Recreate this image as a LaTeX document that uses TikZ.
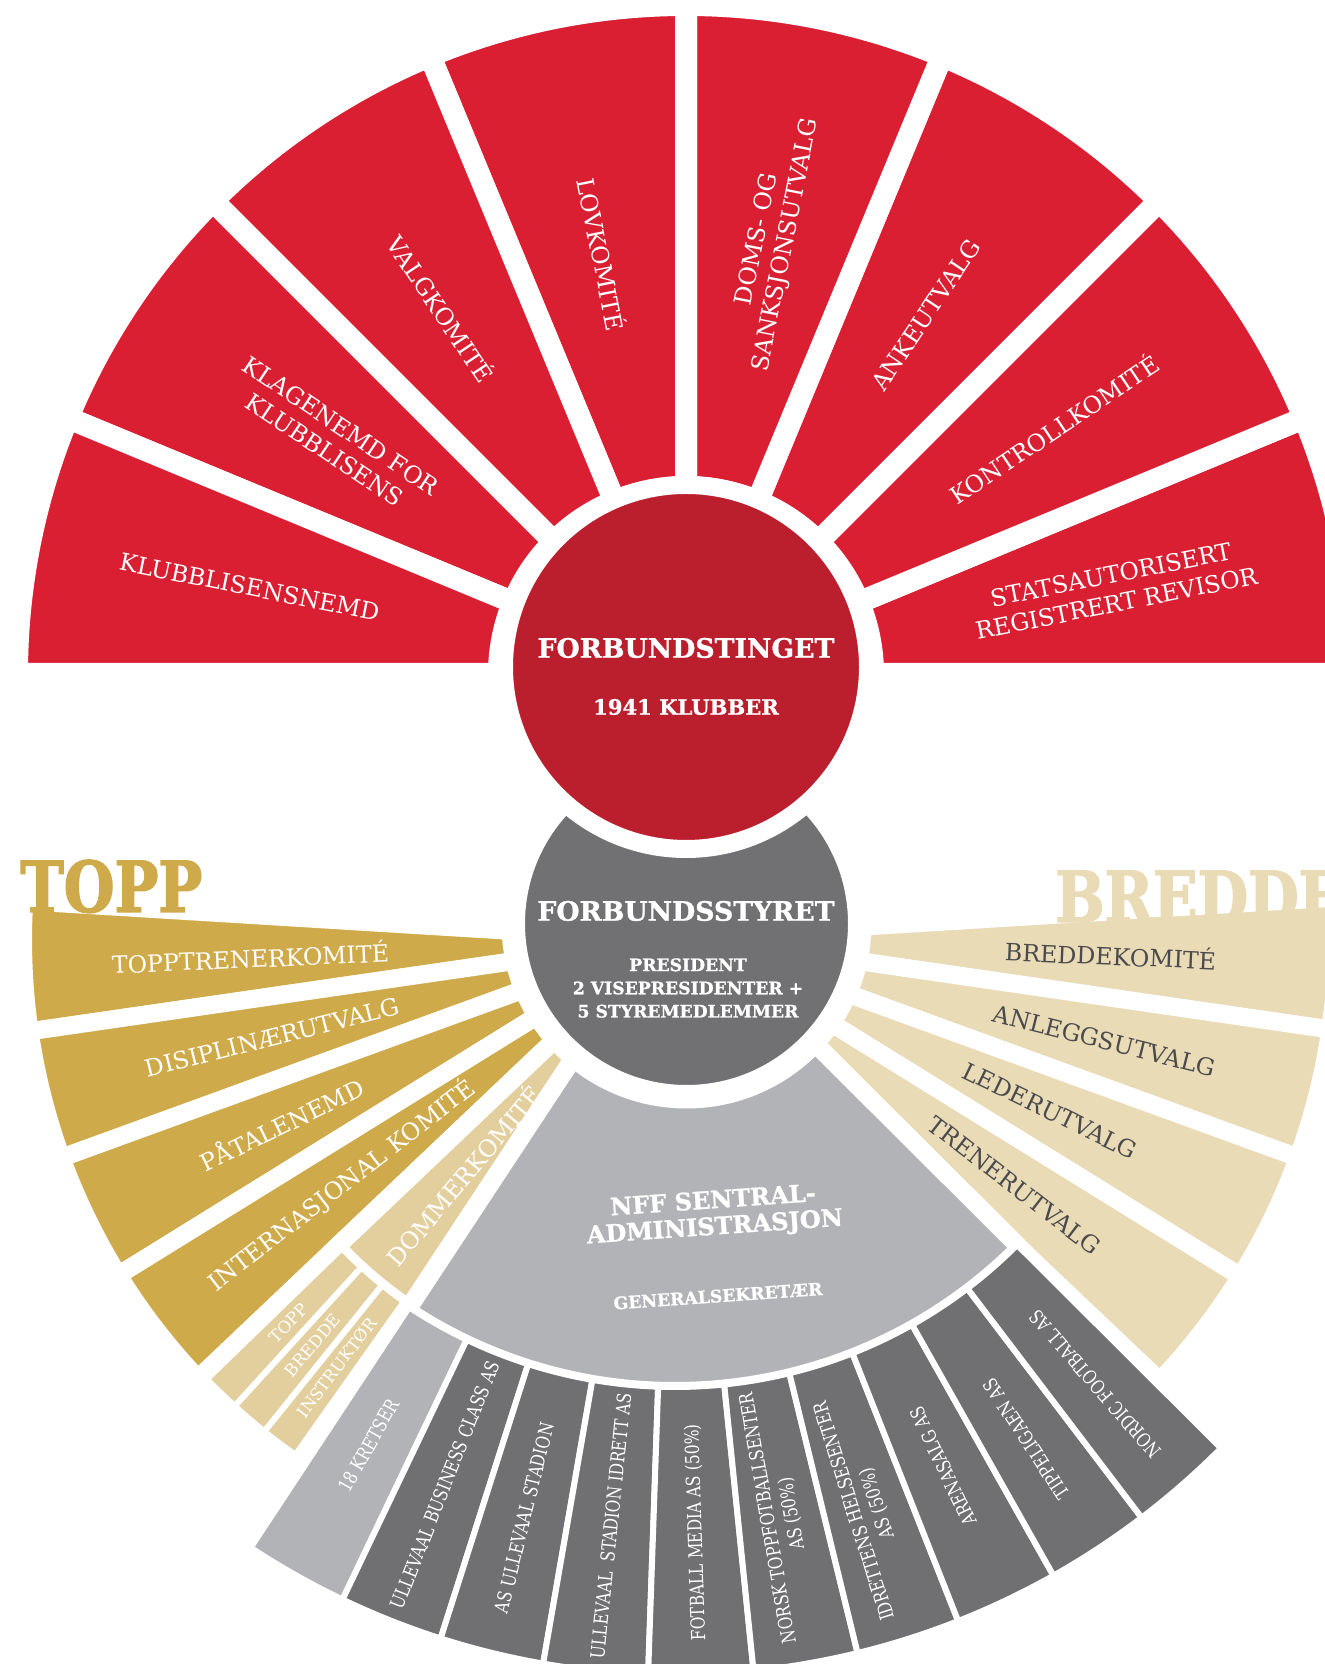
\documentclass[tikz,border=0pt]{standalone}
\usepackage{fontspec}
\setmainfont{DejaVu Serif}
\newfontfamily\compfam{DejaVu Serif}[FakeStretch=0.8]
\newfontfamily\headfam{DejaVu Serif Bold}[FakeStretch=0.83, FakeBold=2]
\newfontfamily\ttlfam{DejaVu Serif Bold}[FakeBold=1]
\usetikzlibrary{calc}

\definecolor{nffred}{HTML}{DA1F33}
\definecolor{nffdark}{HTML}{BB1F2E}
\definecolor{styregray}{HTML}{717174}
\definecolor{admingray}{HTML}{B2B3B6}
\definecolor{cogray}{HTML}{707073}
\definecolor{toppgold}{HTML}{CFAA4A}
\definecolor{breddebeige}{HTML}{EADBB7}
\definecolor{dommertan}{HTML}{E3CF9E}
\definecolor{breddetext}{HTML}{4B4B4D}

% one ring sector: [style]{centre}{from angle}{to angle}{inner r}{outer r}
\newcommand{\ringsec}[6][]{%
  \path[#1] (#2) ++(#3:#5) arc[start angle=#3, end angle=#4, radius=#5]
    -- ++(#4:{#6-#5}) arc[start angle=#4, end angle=#3, radius=#6] -- cycle;}

\tikzset{
  wgap/.style={draw=white, line width=#1},
  redsec/.style={fill=nffred, wgap=12.52pt},
  toppsec/.style={fill=toppgold, wgap=10.24pt},
  breddesec/.style={fill=breddebeige, wgap=10.24pt},
  dommersec/.style={fill=dommertan, wgap=10.24pt},
  kurssec/.style={fill=dommertan, wgap=3.41pt},
  adminsec/.style={fill=admingray, wgap=10.24pt},
  kretssec/.style={fill=admingray, wgap=3.41pt},
  cosec/.style={fill=cogray, wgap=3.41pt},
  lab/.style={font=\fontsize{13.5}{16.5}\selectfont, align=center, inner sep=0},
  wlab/.style={lab, text=white},
  dlab/.style={lab, text=breddetext},
  colab/.style={font=\compfam\fontsize{11}{13.5}\selectfont, align=center, text=white, inner sep=0},
  kurslab/.style={font=\fontsize{9.5}{11}\selectfont, text=white, inner sep=0},
  ttl/.style={font=\ttlfam\fontsize{15.2}{18}\selectfont, text=white, inner sep=0},
  subttl/.style={font=\ttlfam\fontsize{9.8}{13.2}\selectfont, text=white, align=center, inner sep=0},
  bighead/.style={font=\headfam\fontsize{40}{40}\selectfont, inner sep=0, anchor=base west}
}

\begin{document}
\begin{tikzpicture}[x=0.02cm, y=0.02cm]
  \useasboundingbox (0,0) rectangle (1325,1664);
  \clip (0,0) rectangle (1325,1664);

  % centres of the fans
  \coordinate (cF) at (686,997);     % forbundstinget
  \coordinate (cR) at (686,990);     % red fan
  \coordinate (cS) at (686.5,740.5); % forbundsstyret
  \coordinate (cT) at (660,724);     % topp fan
  \coordinate (cB) at (692,727);     % bredde fan
  \coordinate (cA) at (675,760);     % administrasjon and companies

  % red committees
  \foreach \i [evaluate=\i as \a using \i*22.5, evaluate=\i as \b using \i*22.5+22.5] in {0,...,7}
    \ringsec[redsec]{cR}{\a}{\b}{187}{669};

  % topp and bredde
  \foreach \a/\b in {176.5/188.25, 188.25/200, 200/211.75, 211.75/223.5}
    \ringsec[toppsec]{cT}{\a}{\b}{100}{637};
  \foreach \a/\b in {3.5/-8.25, -8.25/-20, -20/-31.75, -31.75/-43.5}
    \ringsec[breddesec]{cB}{\a}{\b}{100}{645};

  % dommer and courses
  \ringsec[dommersec]{cT}{223.5}{236.5}{100}{446};
  \foreach \a/\b in {224.1/227.63, 227.63/231.17, 231.17/234.7}
    \ringsec[kurssec]{cT}{\a}{\b}{443}{631};

  % administration and companies
  \ringsec[adminsec]{cA}{236.6}{315.1}{100}{487};
  \ringsec[kretssec]{cA}{236.6}{244.45}{483}{771};
  \foreach \i [evaluate=\i as \a using 236.6+7.85*\i, evaluate=\i as \b using 244.45+7.85*\i] in {1,...,9}
    \ringsec[cosec]{cA}{\a}{\b}{483}{771};

  % the two circles
  \path[fill=styregray, wgap=13.37pt] (cS) circle[radius=173.25];
  \path[fill=nffdark, wgap=10.24pt] (cF) circle[radius=182];

  % headings
  \node[bighead, text=toppgold] (topphead) at (20,752) {TOPP};
  \node[bighead, text=breddebeige] (breddehead) at (1055,742) {BREDDE};

  % circle texts
  \node[ttl] (tinget) at (686,1016) {FORBUNDSTINGET};
  \node[ttl, font=\ttlfam\fontsize{12}{14}\selectfont] (klubber) at (686,957) {1941 KLUBBER};
  \node[ttl] (styret) at (686,753) {FORBUNDSSTYRET};
  \node[subttl] (styreliste) at (688,676) {PRESIDENT\\2 VISEPRESIDENTER +\\5 STYREMEDLEMMER};

  % red labels
  \node[wlab, rotate=-11.25] (klubblisensnemd) at ($(cR)+(168.75:445)$) {KLUBBLISENSNEMD};
  \node[wlab, rotate=-33.75] (klagenemd) at ($(cR)+(146.25:425)$) {KLAGENEMD FOR\\KLUBBLISENS};
  \node[wlab, rotate=-56.25] (valgkomite) at ($(cR)+(123.75:440)$) {VALGKOMITÉ};
  \node[wlab, rotate=-78.75] (lovkomite) at ($(cR)+(101.25:428)$) {LOVKOMITÉ};
  \node[wlab, rotate=78.75] (doms) at ($(cR)+(78.75:440)$) {DOMS- OG\\SANKSJONSUTVALG};
  \node[wlab, rotate=56.25] (ankeutvalg) at ($(cR)+(56.25:432)$) {ANKEUTVALG};
  \node[wlab, rotate=33.75] (kontroll) at ($(cR)+(33.75:442)$) {KONTROLLKOMITÉ};
  \node[wlab, rotate=11.25] (revisor) at ($(cR)+(11.25:436)$) {STATSAUTORISERT\\REGISTRERT REVISOR};

  % topp labels
  \node[wlab, rotate=2.4] (topptrener) at ($(cT)+(182.4:410)$) {TOPPTRENERKOMITÉ};
  \node[wlab, rotate=14.1] (disiplin) at ($(cT)+(194.1:400)$) {DISIPLINÆRUTVALG};
  \node[wlab, rotate=25.9] (paatale) at ($(cT)+(205.9:421)$) {PÅTALENEMD};
  \node[wlab, rotate=37.6] (internasjonal) at ($(cT)+(217.6:402)$) {INTERNASJONAL KOMITÉ};
  \node[wlab, rotate=50] (dommer) at ($(cT)+(230:307)$) {DOMMERKOMITÉ};
  \node[kurslab, rotate=45.9] (kurstopp) at ($(cT)+(225.9:534)$) {TOPP};
  \node[kurslab, rotate=49.4] (kursbredde) at ($(cT)+(229.4:534)$) {BREDDE};
  \node[kurslab, rotate=52.9] (kursinstruktor) at ($(cT)+(232.9:536)$) {INSTRUKTØR};

  % bredde labels
  \node[dlab, rotate=-2.4] (breddekomite) at ($(cB)+(-2.4:419)$) {BREDDEKOMITÉ};
  \node[dlab, rotate=-14.1] (anlegg) at ($(cB)+(-14.1:425)$) {ANLEGGSUTVALG};
  \node[dlab, rotate=-25.9] (leder) at ($(cB)+(-25.9:398)$) {LEDERUTVALG};
  \node[dlab, rotate=-37.6] (trener) at ($(cB)+(-37.6:407)$) {TRENERUTVALG};

  % administration
  \node[ttl, font=\ttlfam\fontsize{13.7}{15}\selectfont, align=center, rotate=4] (nff) at (714,449) {NFF SENTRAL-\\ADMINISTRASJON};
  \node[subttl, font=\ttlfam\fontsize{9.8}{12}\selectfont, rotate=4] (gensek) at (718,368) {GENERALSEKRETÆR};

  % companies
  \node[colab, rotate=60.5] (kretser) at ($(cA)+(240.5:622)$) {18 KRETSER};
  \node[colab, rotate=68.4] (business) at ($(cA)+(248.4:625)$) {ULLEVAAL BUSINESS CLASS AS};
  \node[colab, rotate=76.2] (stadion) at ($(cA)+(256.2:632)$) {AS ULLEVAAL STADION};
  \node[colab, rotate=84.1] (idrett) at ($(cA)+(264.1:625)$) {ULLEVAAL\enspace STADION IDRETT AS};
  \node[colab, rotate=91.9] (media) at ($(cA)+(271.9:629)$) {FOTBALL MEDIA AS (50\%)};
  \node[colab, rotate=99.8] (toppsenter) at ($(cA)+(279.8:621)$) {NORSK TOPPFOTBALLSENTER\\AS (50\%)};
  \node[colab, rotate=107.6] (helse) at ($(cA)+(287.6:633)$) {IDRETTENS HELSESENTER\\AS (50\%)};
  \node[colab, rotate=115.5] (arena) at ($(cA)+(295.5:623)$) {ARENASALG AS};
  \node[colab, rotate=123.3] (tippeligaen) at ($(cA)+(303.3:640)$) {TIPPELIGAEN AS};
  \node[colab, rotate=131.2] (nordic) at ($(cA)+(311.2:638)$) {NORDIC FOOTBALL AS};
\end{tikzpicture}
\end{document}
